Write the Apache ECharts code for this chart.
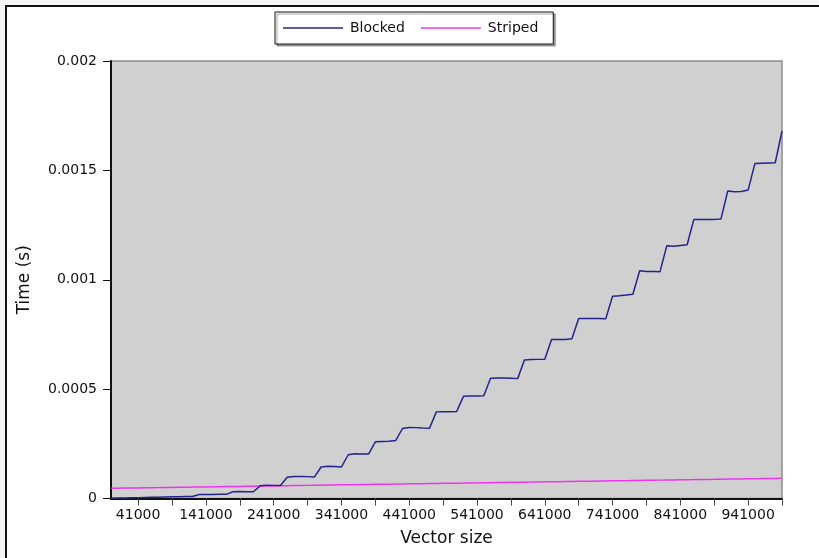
<!DOCTYPE html>
<html>
<head>
<meta charset="utf-8">
<script src="https://cdn.jsdelivr.net/npm/echarts@6/dist/echarts.min.js"></script>
<style>
  html, body { margin: 0; padding: 0; background: #f5f5f5; }
  #frame { position: absolute; left: 5px; top: 5px; width: 900px; height: 900px; background: #fff; border-left: 2px solid #111; border-top: 2px solid #111; }
  #chart { position: absolute; left: 0; top: 0; width: 819px; height: 558px; }
  body { width: 819px; height: 558px; overflow: hidden; position: relative; }
</style>
</head>
<body>
<div id="frame"></div>
<div id="chart"></div>
<script>
// Vector sizes (x categories)
const vectorSizes = [
  1000, 11000, 21000, 31000, 41000, 51000, 61000, 71000, 81000, 91000,
  101000, 111000, 121000, 131000, 141000, 151000, 161000, 171000, 181000, 191000,
  201000, 211000, 221000, 231000, 241000, 251000, 261000, 271000, 281000, 291000,
  301000, 311000, 321000, 331000, 341000, 351000, 361000, 371000, 381000, 391000,
  401000, 411000, 421000, 431000, 441000, 451000, 461000, 471000, 481000, 491000,
  501000, 511000, 521000, 531000, 541000, 551000, 561000, 571000, 581000, 591000,
  601000, 611000, 621000, 631000, 641000, 651000, 661000, 671000, 681000, 691000,
  701000, 711000, 721000, 731000, 741000, 751000, 761000, 771000, 781000, 791000,
  801000, 811000, 821000, 831000, 841000, 851000, 861000, 871000, 881000, 891000,
  901000, 911000, 921000, 931000, 941000, 951000, 961000, 971000, 981000, 991000
];

// Blocked timings (s)
const blockedTimes = [
  1e-6, 2e-6, 2e-6, 3e-6, 4e-6, 5e-6, 6e-6, 6e-6, 7e-6, 8e-6,
  8e-6, 9e-6, 9e-6, 18e-6, 18e-6, 18e-6, 19e-6, 19e-6, 31e-6, 32e-6,
  31e-6, 31e-6, 58e-6, 61e-6, 60e-6, 59e-6, 97e-6, 101e-6, 101e-6, 100e-6,
  98e-6, 144e-6, 147e-6, 146e-6, 144e-6, 200e-6, 205e-6, 203e-6, 203e-6, 259e-6,
  261e-6, 262e-6, 265e-6, 320e-6, 325e-6, 324e-6, 322e-6, 321e-6, 396e-6, 397e-6,
  397e-6, 398e-6, 467e-6, 469e-6, 469e-6, 470e-6, 550e-6, 551e-6, 551e-6, 550e-6,
  548e-6, 633e-6, 635e-6, 636e-6, 637e-6, 727e-6, 727e-6, 727e-6, 730e-6, 823e-6,
  823e-6, 823e-6, 823e-6, 822e-6, 925e-6, 927e-6, 930e-6, 934e-6, 1041e-6, 1038e-6,
  1038e-6, 1037e-6, 1155e-6, 1153e-6, 1157e-6, 1160e-6, 1276e-6, 1276e-6, 1276e-6, 1276e-6,
  1278e-6, 1406e-6, 1402e-6, 1403e-6, 1410e-6, 1531e-6, 1533e-6, 1534e-6, 1535e-6, 1680e-6
];

// Striped timings (s)
const stripedTimes = [
  46.6e-6, 47.1e-6, 47.5e-6, 48.0e-6, 48.4e-6, 48.9e-6, 49.4e-6, 49.8e-6, 50.3e-6, 50.8e-6,
  51.2e-6, 51.7e-6, 52.1e-6, 52.6e-6, 53.1e-6, 53.5e-6, 54.0e-6, 54.5e-6, 54.9e-6, 55.4e-6,
  55.8e-6, 56.3e-6, 56.8e-6, 57.2e-6, 57.7e-6, 58.2e-6, 58.6e-6, 59.1e-6, 59.5e-6, 60.0e-6,
  60.5e-6, 60.9e-6, 61.4e-6, 61.8e-6, 62.3e-6, 62.8e-6, 63.2e-6, 63.7e-6, 64.2e-6, 64.6e-6,
  65.1e-6, 65.5e-6, 66.0e-6, 66.5e-6, 66.9e-6, 67.4e-6, 67.9e-6, 68.3e-6, 68.8e-6, 69.2e-6,
  69.7e-6, 70.2e-6, 70.6e-6, 71.1e-6, 71.5e-6, 72.0e-6, 72.5e-6, 72.9e-6, 73.4e-6, 73.9e-6,
  74.3e-6, 74.8e-6, 75.2e-6, 75.7e-6, 76.2e-6, 76.6e-6, 77.1e-6, 77.6e-6, 78.0e-6, 78.5e-6,
  78.9e-6, 79.4e-6, 79.9e-6, 80.3e-6, 80.8e-6, 81.2e-6, 81.7e-6, 82.2e-6, 82.6e-6, 83.1e-6,
  83.6e-6, 84.0e-6, 84.5e-6, 84.9e-6, 85.4e-6, 85.9e-6, 86.3e-6, 86.8e-6, 87.3e-6, 87.7e-6,
  88.2e-6, 88.6e-6, 89.1e-6, 89.6e-6, 90.0e-6, 90.5e-6, 90.9e-6, 91.4e-6, 91.9e-6, 92.3e-6
];

const seriesNames = ['Blocked', 'Striped'];
const yTicks = { min: 0, max: 0.002, interval: 0.0005 };

const FONT = 'DejaVu Sans';
const chart = echarts.init(document.getElementById('chart'), null, { renderer: 'canvas' });
chart.setOption({
  backgroundColor: 'transparent',
  animation: false,
  textStyle: { fontFamily: FONT, color: '#111' },
  legend: {
    data: seriesNames,
    left: 275,
    top: 12,
    padding: [9, 15, 9, 8],
    itemGap: 16,
    itemWidth: 60,
    itemHeight: 1.5,
    icon: 'rect',
    backgroundColor: '#fff',
    borderColor: '#111',
    borderWidth: 1,
    borderRadius: 0,
    shadowColor: 'rgba(0,0,0,0.35)',
    shadowOffsetX: 2,
    shadowOffsetY: 2,
    shadowBlur: 0,
    textStyle: { fontFamily: FONT, fontSize: 14, color: '#111', padding: [0, 0, 0, 2] }
  },
  grid: {
    left: 111, top: 61, right: 37, bottom: 59.5,
    show: true,
    backgroundColor: '#d0d0d0',
    borderColor: '#8a8a8a',
    borderWidth: 1.5
  },
  xAxis: {
    type: 'category',
    data: vectorSizes,
    boundaryGap: false,
    name: 'Vector size',
    nameLocation: 'middle',
    nameGap: 32,
    nameTextStyle: { fontFamily: FONT, fontSize: 17, color: '#111' },
    axisLine: { lineStyle: { color: '#111', width: 2 } },
    axisTick: {
      show: true,
      length: 7,
      interval: function (i) { return (i + 1) % 5 === 0; },
      lineStyle: { color: '#444', width: 1 }
    },
    axisLabel: {
      interval: function (i) { return (i - 4) % 10 === 0; },
      margin: 10,
      fontFamily: FONT,
      fontSize: 14,
      color: '#111'
    },
    splitLine: { show: false }
  },
  yAxis: {
    type: 'value',
    min: yTicks.min,
    max: yTicks.max,
    interval: yTicks.interval,
    name: 'Time (s)',
    nameLocation: 'middle',
    nameGap: 78,
    nameTextStyle: { fontFamily: FONT, fontSize: 17, color: '#111' },
    axisLine: { show: true, lineStyle: { color: '#111', width: 2 } },
    axisTick: { show: true, length: 8, lineStyle: { color: '#111', width: 1 } },
    axisLabel: {
      margin: 14,
      fontFamily: FONT,
      fontSize: 14,
      color: '#111',
      formatter: function (v) { return v === 0 ? '0' : String(parseFloat(v.toFixed(6))); }
    },
    splitLine: { show: false }
  },
  series: [
    {
      name: seriesNames[0],
      type: 'line',
      data: blockedTimes,
      symbol: 'none',
      lineStyle: { color: '#23238e', width: 1.5 },
      itemStyle: { color: '#23238e' },
      z: 3
    },
    {
      name: seriesNames[1],
      type: 'line',
      data: stripedTimes,
      symbol: 'none',
      lineStyle: { color: '#ee33ee', width: 1.5 },
      itemStyle: { color: '#ee33ee' },
      z: 2
    }
  ]
});
</script>
</body>
</html>
